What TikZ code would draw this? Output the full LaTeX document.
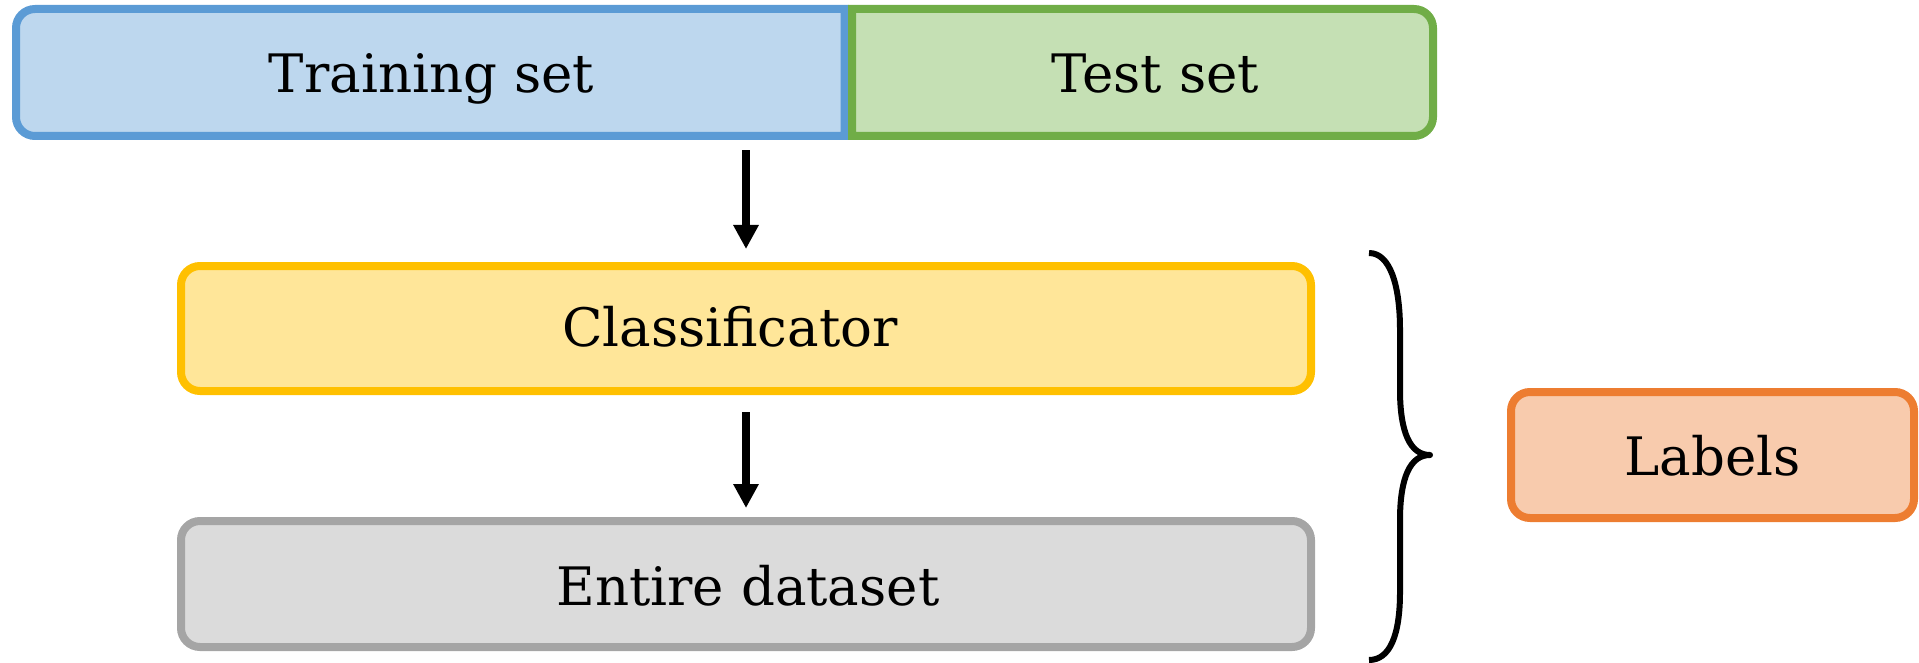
\documentclass[tikz,border=0pt]{standalone}
\usepackage{fontspec}
\setmainfont{DejaVu Serif}
\usetikzlibrary{arrows.meta}
\definecolor{blueB}{HTML}{5B9BD5}
\definecolor{blueF}{HTML}{BDD7EE}
\definecolor{greenB}{HTML}{70AD47}
\definecolor{greenF}{HTML}{C5E0B4}
\definecolor{yellowB}{HTML}{FFC000}
\definecolor{yellowF}{HTML}{FFE699}
\definecolor{grayB}{HTML}{A5A5A5}
\definecolor{grayF}{HTML}{DBDBDB}
\definecolor{orangeB}{HTML}{ED7D31}
\definecolor{orangeF}{HTML}{F8CBAD}
\begin{document}
\begin{tikzpicture}[x=1pt,y=-1pt,
  box/.style={rectangle, inner sep=0pt, line width=8pt, rounded corners=19pt},
  lbl/.style={anchor=base, inner sep=0pt, font=\fontsize{53}{64}\selectfont},
  arr/.style={line width=8pt, -{Triangle[width=24pt,length=24pt]}},
  bracestyle/.style={line width=6pt, line join=round}]
\useasboundingbox (0,0) rectangle (1919,663);
% split box (training / test)
\node[rectangle, inner sep=0pt, minimum width=828.5pt, minimum height=127pt] (train) at (430.25,72.5) {};
\node[rectangle, inner sep=0pt, minimum width=581pt, minimum height=127pt] (test) at (1142.5,72.5) {};
\draw[draw=blueB, fill=blueF, line width=8pt]
  (844.5,9) -- (35,9) arc[start angle=270, end angle=180, radius=19]
  -- (16,117) arc[start angle=180, end angle=90, radius=19]
  -- (844.5,136) -- cycle;
\draw[draw=greenB, fill=greenF, line width=8pt]
  (852,9) -- (1414,9) arc[start angle=270, end angle=360, radius=19]
  -- (1433,117) arc[start angle=0, end angle=90, radius=19]
  -- (852,136) -- cycle;
\node[lbl] (trainT) at (431.5,93) {Training set};
\node[lbl] (testT) at (1155,93) {Test set};
% other boxes
\node[box, draw=yellowB, fill=yellowF, minimum width=1130pt, minimum height=125pt] (clf) at (746,328.5) {};
\node[box, draw=grayB, fill=grayF, minimum width=1130pt, minimum height=126pt] (ent) at (746,584) {};
\node[box, draw=orangeB, fill=orangeF, minimum width=403pt, minimum height=126pt] (lab) at (1712.5,455) {};
\node[lbl] (clfT) at (730,346) {Classificator};
\node[lbl] (entT) at (748,605) {Entire dataset};
\node[lbl] (labT) at (1712.5,475.5) {Labels};
% arrows
\draw[arr, shorten <=14pt, shorten >=13pt] (clf.north |- train.south) -- (clf.north);
\draw[arr, shorten <=17pt, shorten >=9pt] (clf.south) -- (ent.north);
% brace
\draw[bracestyle] (1369,253) .. controls (1390,253) and (1400,285) .. (1400,330)
  -- (1400,390) .. controls (1400,432) and (1410,455) .. (1430,455)
  .. controls (1410,455) and (1400,478) .. (1400,520)
  -- (1400,592) .. controls (1400,635) and (1390,660) .. (1369,660);
\end{tikzpicture}
\end{document}
